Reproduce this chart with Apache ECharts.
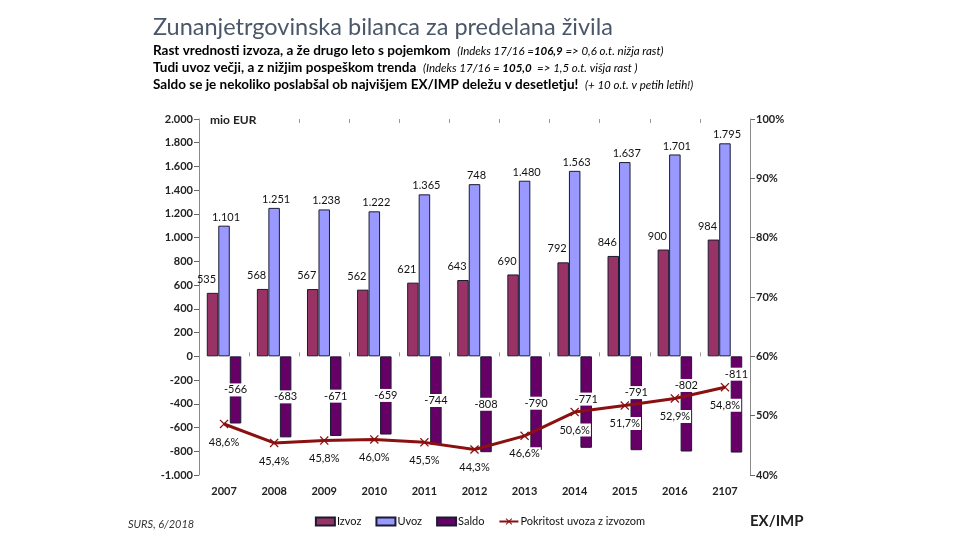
<!DOCTYPE html>
<html lang="sl">
<head>
<meta charset="UTF-8">
<script src="https://cdn.jsdelivr.net/npm/echarts@6/dist/echarts.min.js"></script>
<title>Zunanjetrgovinska bilanca</title>
<style>
  body { margin: 0; background: #fff; }
  #chart { width: 960px; height: 540px; }
</style>
</head>
<body>
<div id="chart"></div>
<script>
// podatki (mio EUR)
var leta = ['2007', '2008', '2009', '2010', '2011', '2012', '2013', '2014', '2015', '2016', '2107'];
var izvoz = [535, 568, 567, 562, 621, 643, 690, 792, 846, 900, 984];
var uvoz = [1101, 1251, 1238, 1222, 1365, 1451, 1480, 1563, 1637, 1701, 1795];
var uvozNapisi = ['1.101', '1.251', '1.238', '1.222', '1.365', '748', '1.480', '1.563', '1.637', '1.701', '1.795'];
var saldo = [-566, -683, -671, -659, -744, -808, -790, -771, -791, -802, -811];
var pokritost = [48.6, 45.4, 45.8, 46.0, 45.5, 44.3, 46.6, 50.6, 51.7, 52.9, 54.8];

var FONT = 'Lato';

function tisoc(n) {
  return String(n).replace(/\B(?=(\d{3})+(?!\d))/g, '.');
}

var chart = echarts.init(document.getElementById('chart'));

var okvir = { borderColor: '#1b1b33', borderWidth: 1 };

// napis salda naj ne prekrije tocke pokritosti
function saldoNapis(params) {
  var i = params.dataIndex;
  var r = params.labelRect;
  var sredina = r.y + r.height / 2;
  var tocka = chart.convertToPixel({ yAxisIndex: 1 }, pokritost[i]);
  if (typeof tocka !== 'number' || isNaN(tocka)) return {};
  var cilj = Math.min(sredina, tocka - 13);
  return { dy: cilj - sredina };
}

var option = {
  animation: false,
  textStyle: { fontFamily: FONT },
  grid: { left: 199, right: 210, top: 119, bottom: 65 },
  xAxis: [
    {
      type: 'category', data: leta, position: 'bottom', onZero: false,
      axisLine: { show: false, onZero: false }, axisTick: { show: false },
      axisLabel: { margin: 11, fontWeight: 'bold', fontSize: 11, color: '#222' }
    },
    {
      // kljukice na nicli
      type: 'category', data: leta,
      axisLine: { show: false, onZero: true },
      axisTick: { show: true, length: 4, lineStyle: { color: '#999' } },
      axisLabel: { show: false }
    },
    {
      type: 'category', data: leta,
      axisLine: { show: false, onZero: true },
      axisTick: { show: true, inside: true, length: 4, lineStyle: { color: '#999' } },
      axisLabel: { show: false }
    }
  ],
  yAxis: [
    {
      type: 'value', min: -1000, max: 2000, interval: 200,
      axisLine: { show: true, lineStyle: { color: '#8a8a8a' } },
      axisTick: { show: true, length: 5, lineStyle: { color: '#666' } },
      splitLine: { show: false },
      axisLabel: { formatter: tisoc, fontWeight: 'bold', fontSize: 11, color: '#222', margin: 6 }
    },
    {
      type: 'value', min: 40, max: 100, interval: 10, position: 'right',
      axisLine: { show: true, lineStyle: { color: '#8a8a8a' } },
      axisTick: { show: true, length: 5, lineStyle: { color: '#666' } },
      splitLine: { show: false },
      axisLabel: { formatter: '{value}%', fontWeight: 'bold', fontSize: 11, color: '#222', margin: 6 }
    }
  ],
  legend: {
    bottom: 8, left: 'center', itemGap: 14, itemWidth: 19, itemHeight: 8,
    textStyle: { fontSize: 11, color: '#111', padding: [0, 0, 0, -3] },
    data: [
      { name: 'Izvoz', icon: 'rect' },
      { name: 'Uvoz', icon: 'rect' },
      { name: 'Saldo', icon: 'rect' },
      { name: 'Pokritost uvoza z izvozom' }
    ]
  },
  series: [
    {
      name: 'Izvoz', type: 'bar', data: izvoz, barWidth: 11.5, barGap: '0%',
      itemStyle: Object.assign({ color: '#993366' }, okvir),
      label: {
        show: true, position: 'top', distance: 8, offset: [-6, 0],
        fontSize: 11, color: '#111', formatter: function (p) { return tisoc(p.value); }
      }
    },
    {
      name: 'Uvoz', type: 'bar', data: uvoz, barWidth: 11.5, barGap: '0%',
      itemStyle: Object.assign({ color: '#9999ff' }, okvir),
      label: {
        show: true, position: 'top', distance: 3, offset: [2, 0],
        fontSize: 11, color: '#111', formatter: function (p) { return uvozNapisi[p.dataIndex]; }
      }
    },
    {
      name: 'Saldo', type: 'bar', data: saldo, barWidth: 11.5, barGap: '0%',
      itemStyle: Object.assign({ color: '#660066' }, okvir),
      label: {
        show: true, position: 'inside', fontSize: 11, color: '#111',
        backgroundColor: '#fff', padding: [1, 1],
        formatter: function (p) { return p.value; }
      },
      labelLayout: saldoNapis
    },
    {
      name: 'Pokritost uvoza z izvozom', type: 'line', yAxisIndex: 1, data: pokritost, z: 5,
      lineStyle: { color: '#8b1010', width: 3 },
      itemStyle: { color: '#8b1010' },
      symbol: 'path://M0,1L1,0L5,4L9,0L10,1L6,5L10,9L9,10L5,6L1,10L0,9L4,5Z',
      symbolSize: 9,
      label: {
        show: true, position: 'bottom', distance: 7, fontSize: 11, color: '#111',
        backgroundColor: '#fff', padding: [1, 1],
        formatter: function (p) { return p.value.toFixed(1).replace('.', ',') + '%'; }
      }
    }
  ],
  graphic: [
    {
      type: 'text', left: 153, top: 15,
      style: { text: 'Zunanjetrgovinska bilanca za predelana živila', font: '23.5px Lato', fill: '#4a5768' }
    },
    {
      type: 'text', left: 153, top: 44,
      style: {
        text: '{b|Rast vrednosti izvoza, a že drugo leto s pojemkom}  {i|(Indeks 17/16 =}{ib|106,9}{i| => 0,6 o.t. nižja rast)}\n' +
              '{b|Tudi uvoz večji, a z nižjim pospeškom trenda}  {i|(Indeks 17/16 = }{ib|105,0}{i|  => 1,5 o.t. višja rast )}\n' +
              '{b|Saldo se je nekoliko poslabšal ob najvišjem EX/IMP deležu v desetletju!}  {i|(+ 10 o.t. v petih letih!)}',
        rich: {
          b: { fontFamily: FONT, fontWeight: 'bold', fontSize: 13.5, fill: '#000', lineHeight: 17 },
          i: { fontFamily: FONT, fontStyle: 'italic', fontSize: 11.5, fill: '#000', lineHeight: 17 },
          ib: { fontFamily: FONT, fontStyle: 'italic', fontWeight: 'bold', fontSize: 11.5, fill: '#000', lineHeight: 17 }
        }
      }
    },
    {
      type: 'text', left: 210, top: 114,
      style: { text: 'mio EUR', font: 'bold 12px Lato', fill: '#222' }
    },
    {
      type: 'text', left: 128, top: 519,
      style: { text: 'SURS, 6/2018', font: 'italic 11px Lato', fill: '#333' }
    },
    {
      type: 'text', left: 750, top: 514,
      style: { text: 'EX/IMP', font: 'bold 15px Lato', fill: '#222' }
    }
  ]
};

chart.setOption(option);
</script>
</body>
</html>
